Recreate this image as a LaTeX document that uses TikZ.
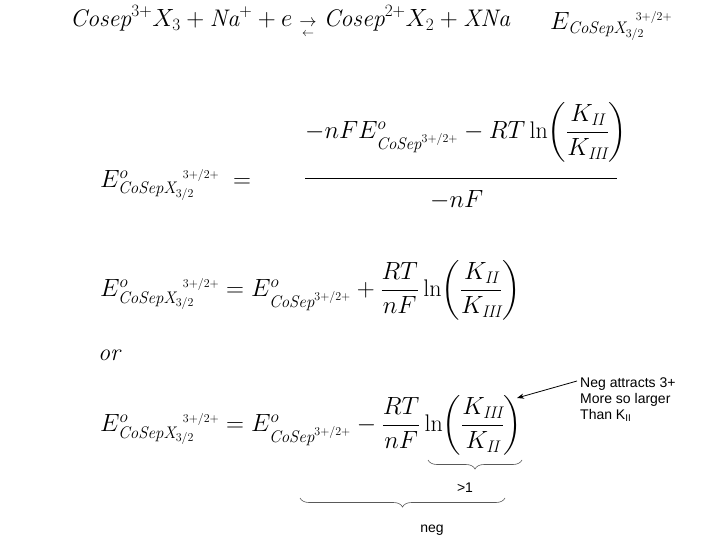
\documentclass[tikz,border=0pt]{standalone}
\usepackage{amsmath}
\usepackage{fontspec}
\usetikzlibrary{arrows.meta,decorations.pathreplacing}
\newfontfamily\sans{Liberation Sans}
\begin{document}
\begin{tikzpicture}[x=1pt,y=-1pt,
  eq/.style={anchor=west,inner sep=0pt,font=\fontsize{24}{28}\selectfont},
  lab/.style={anchor=west,inner sep=0pt,font=\sans\fontsize{14}{16}\selectfont,align=left},
  brc/.style={decorate,decoration={brace,mirror,amplitude=9pt},gray!70!black,line width=0.6pt}]
\useasboundingbox (0,0) rectangle (720,540);
\newcommand{\Eleft}{E^{o}_{\mathit{CoSepX}_{3/2}}{}^{\!\!\!\!\scriptscriptstyle 3+/2+}}
\newcommand{\Eright}{E^{o}_{\mathit{CoSep}^{3+/2+}}}
\node[eq] (r1) at (70,22) {$\mathit{Cosep}^{3+}X_3+\mathit{Na}^{+}+e\mathrel{\scriptstyle\underset{\leftarrow}{\rightarrow}}\mathit{Cosep}^{2+}X_2+\mathit{XNa}$};
\node[eq] (r1e) at (550,26) {$E_{\mathit{CoSepX}_{3/2}}{}^{\!\!\!\scriptscriptstyle 3+/2+}$};
\node[eq] (e2l) at (100,185) {$\Eleft \;=$};
\node[eq] (e2n) at (305,132) {$-nFE^{o}_{\mathit{CoSep}^{3+/2+}}-RT\ln\!\left(\dfrac{K_{\mathit{II}}}{K_{\mathit{III}}}\right)$};
\coordinate (fl) at (305,178); \coordinate (fr) at (617,178);
\draw[line width=0.8pt] (fl) -- (fr);
\node[eq] (e2d) at (430,200) {$-nF$};
\node[eq] (e3) at (100,290) {$\Eleft = \Eright + \dfrac{RT}{nF}\ln\!\left(\dfrac{K_{\mathit{II}}}{K_{\mathit{III}}}\right)$};
\node[eq] (or) at (98,355) {$\mathit{or}$};
\node[eq] (e4) at (100,425) {$\Eleft = \Eright - \dfrac{RT}{nF}\ln\!\left(\dfrac{K_{\mathit{III}}}{K_{\mathit{II}}}\right)$};
\node[lab] (note) at (580,400) {Neg attracts 3+\\More so larger\\Than K\textsubscript{II}};
\coordinate (tip) at (517,398);
\coordinate (tail) at (577,381);
\draw[-{Stealth[length=7pt]},line width=0.8pt] (tail) -- (tip);
\coordinate (b1a) at (428,460); \coordinate (b1b) at (522,460);
\draw[brc] (b1a) -- (b1b);
\coordinate (b2a) at (300,498); \coordinate (b2b) at (505,498);
\draw[brc] (b2a) -- (b2b);
\node[lab,anchor=center] (gt) at (465,488) {>1};
\node[lab,anchor=center] (neg) at (432,530) {neg};
\end{tikzpicture}
\end{document}
